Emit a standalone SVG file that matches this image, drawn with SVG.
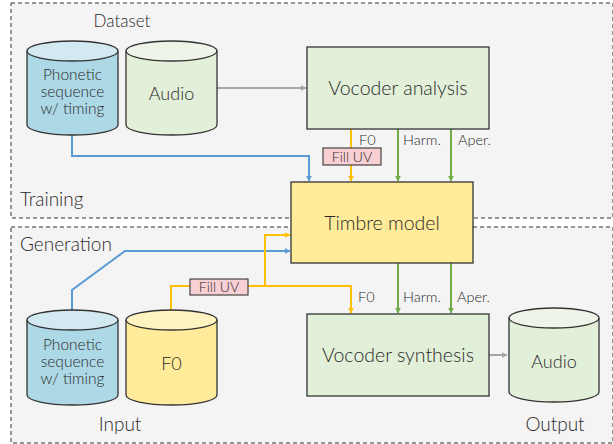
<svg xmlns="http://www.w3.org/2000/svg" width="613" height="444" viewBox="0 0 613 444">
<defs>
<style>
text{font-family:Lato,"Noto Sans","Liberation Sans",sans-serif;fill:#2a2a2a;font-weight:300;}
.frame{fill:#f4f4f4;stroke:#333;stroke-width:1;stroke-dasharray:4,3;}
.box{stroke:#333;stroke-width:1.3;}
.green{fill:#e2efd9;}
.yellow{fill:#ffeb99;}
.blue{fill:#add8e6;}
.uv{fill:#f8cfd3;stroke:#444;stroke-width:1.2;}
.ln{fill:none;stroke-width:2;}
.lb{stroke:#5b9bd5;}
.ly{stroke:#ffc000;}
.lg{stroke:#70ad47;}
.lgr{stroke:#a6a6a6;}
.big{font-size:19.5px;text-anchor:middle;}
.mid{font-size:18px;text-anchor:middle;}
.small{font-size:15.5px;text-anchor:middle;}
.lab{font-size:14.5px;}
.uvt{font-size:14px;text-anchor:middle;}
</style>
<marker id="ab" viewBox="0 0 10 10" refX="9" refY="5" markerWidth="6" markerHeight="6" markerUnits="userSpaceOnUse" orient="auto"><path d="M0,0L10,5L0,10z" fill="#5b9bd5"/></marker>
<marker id="ay" viewBox="0 0 10 10" refX="9" refY="5" markerWidth="6" markerHeight="6" markerUnits="userSpaceOnUse" orient="auto"><path d="M0,0L10,5L0,10z" fill="#ffc000"/></marker>
<marker id="ag" viewBox="0 0 10 10" refX="9" refY="5" markerWidth="6" markerHeight="6" markerUnits="userSpaceOnUse" orient="auto"><path d="M0,0L10,5L0,10z" fill="#70ad47"/></marker>
<marker id="agr" viewBox="0 0 10 10" refX="9" refY="5" markerWidth="6" markerHeight="6" markerUnits="userSpaceOnUse" orient="auto"><path d="M0,0L10,5L0,10z" fill="#a6a6a6"/></marker>
</defs>

<g id="training-frame">
<rect class="frame" x="11" y="3" width="602" height="215"/>
<text x="122" y="27" style="font-size:17px;text-anchor:middle">Dataset</text>
<text x="20" y="206" style="font-size:19px">Training</text>
</g>
<g id="generation-frame">
<rect class="frame" x="11" y="227" width="602" height="216"/>
<text x="20" y="251" style="font-size:19px">Generation</text>
<text x="120" y="431" style="font-size:19px;text-anchor:middle">Input</text>
<text x="555" y="431" style="font-size:19px;text-anchor:middle">Output</text>
</g>

<g id="connectors">
<path class="ln lgr" d="M217,88H306" marker-end="url(#agr)"/>
<path class="ln lb" d="M72,135V156H309V181" marker-end="url(#ab)"/>
<path class="ln ly" d="M351,129V181" marker-end="url(#ay)"/>
<path class="ln lg" d="M398,129V181" marker-end="url(#ag)"/>
<path class="ln lg" d="M451,129V181" marker-end="url(#ag)"/>
<path class="ln lb" d="M72,310V290L125,251H290" marker-end="url(#ab)"/>
<path class="ln ly" d="M171,310V286H351V313" marker-end="url(#ay)"/>
<path class="ln ly" d="M265,286V235H290" marker-end="url(#ay)"/>
<path class="ln lg" d="M398,263V313" marker-end="url(#ag)"/>
<path class="ln lg" d="M451,263V313" marker-end="url(#ag)"/>
<path class="ln lgr" d="M489,355H507" marker-end="url(#agr)"/>
<text class="lab" x="359" y="145">F0</text>
<text class="lab" x="403" y="145">Harm.</text>
<text class="lab" x="458" y="145">Aper.</text>
<text class="lab" x="358" y="302">F0</text>
<text class="lab" x="403" y="302">Harm.</text>
<text class="lab" x="457" y="302">Aper.</text>
</g>

<g id="fill-uv-train">
<rect class="uv" x="323" y="148" width="58" height="17"/>
<text class="uvt" x="352" y="161.5">Fill UV</text>
</g>
<g id="fill-uv-gen">
<rect class="uv" x="190" y="279" width="58" height="16"/>
<text class="uvt" x="219" y="292">Fill UV</text>
</g>

<g id="phonetic-train">
<path class="box blue" d="M27,51V125A45.5,10 0 0 0 118,125V51"/>
<ellipse class="box" cx="72.5" cy="51" rx="45.5" ry="10" fill="#d2e9f1"/>
<text class="small" x="72.5" y="80">Phonetic</text>
<text class="small" x="72.5" y="97">sequence</text>
<text class="small" x="72.5" y="114">w/ timing</text>
</g>
<g id="audio-train">
<path class="box green" d="M126,51V125A45.5,10 0 0 0 217,125V51"/>
<ellipse class="box" cx="171.5" cy="51" rx="45.5" ry="10" fill="#eef5e8"/>
<text class="mid" x="171.5" y="100">Audio</text>
</g>
<g id="vocoder-analysis">
<rect class="box green" x="307" y="47" width="182" height="82"/>
<text class="big" x="398" y="95">Vocoder analysis</text>
</g>
<g id="timbre-model">
<rect class="box yellow" x="291" y="182" width="182" height="81"/>
<text class="big" x="382" y="230">Timbre model</text>
</g>
<g id="phonetic-gen">
<path class="box blue" d="M27,320V395A45.5,10 0 0 0 118,395V320"/>
<ellipse class="box" cx="72.5" cy="320" rx="45.5" ry="10" fill="#d2e9f1"/>
<text class="small" x="72.5" y="350">Phonetic</text>
<text class="small" x="72.5" y="367">sequence</text>
<text class="small" x="72.5" y="384">w/ timing</text>
</g>
<g id="f0-gen">
<path class="box yellow" d="M126,320V395A45.5,10 0 0 0 217,395V320"/>
<ellipse class="box" cx="171.5" cy="320" rx="45.5" ry="10" fill="#fff3c2"/>
<text class="mid" x="171.5" y="370">F0</text>
</g>
<g id="vocoder-synthesis">
<rect class="box green" x="307" y="314" width="182" height="82"/>
<text class="big" x="398" y="362">Vocoder synthesis</text>
</g>
<g id="audio-out">
<path class="box green" d="M509,318V392A45,10 0 0 0 599,392V318"/>
<ellipse class="box" cx="554" cy="318" rx="45" ry="10" fill="#eef5e8"/>
<text class="mid" x="554" y="368">Audio</text>
</g>
</svg>
